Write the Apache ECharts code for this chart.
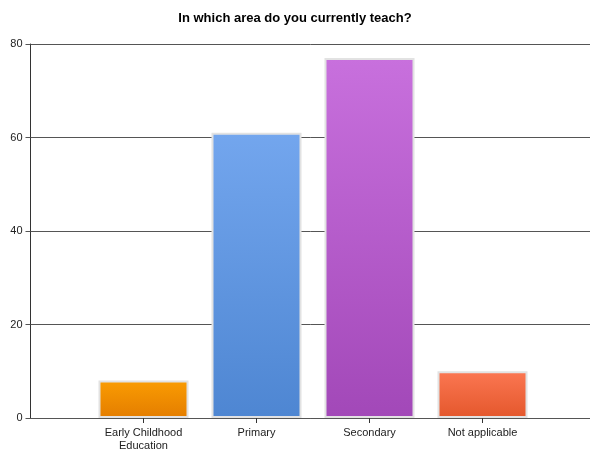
<!DOCTYPE html>
<html><head><meta charset="utf-8">
<script src="https://cdn.jsdelivr.net/npm/echarts@6/dist/echarts.min.js"></script>
<style>html,body{margin:0;padding:0;background:#fff}#c{width:590px;height:450px}</style>
</head><body><div id="c"></div>
<script>
var categories = ['', 'Early Childhood\nEducation', 'Primary', 'Secondary', 'Not applicable', ''];
var values = [null, 8, 61, 77, 10, null];
var yTicks = [0, 20, 40, 60, 80];
var topColors = [null, '#fa9c02', '#73a6ee', '#c870dd', '#fb7752', null];
var bottomColors = [null, '#e47d00', '#4e86d2', '#a248b8', '#e4572c', null];

var chart = echarts.init(document.getElementById('c'));
var data = values.map(function (v, i) {
  if (v === null) return null;
  return {
    value: v,
    itemStyle: {
      color: new echarts.graphic.LinearGradient(0, 0, 0, 1, [
        {offset: 0, color: topColors[i]}, {offset: 1, color: bottomColors[i]}
      ]),
      borderColor: '#e2e2e2', borderWidth: 2
    }
  };
});
chart.setOption({
  animation: false,
  title: {
    text: 'In which area do you currently teach?', left: 'center', top: 7,
    textStyle: {fontFamily: 'Liberation Sans, Arial', fontSize: 13, fontWeight: 'bold', color: '#000'}
  },
  grid: {left: 30.5, width: 565, top: 44, height: 374, containLabel: false, outerBoundsMode: 'none'},
  xAxis: {
    type: 'category', data: categories, boundaryGap: false,
    axisLine: {lineStyle: {color: '#555', width: 1}},
    axisTick: {show: true, length: 5, lineStyle: {color: '#333'},
      interval: function (i, v) { return v !== ''; }},
    axisLabel: {interval: 0, margin: 8, fontFamily: 'Liberation Sans, Arial', fontSize: 11, color: '#222', lineHeight: 13}
  },
  yAxis: {
    type: 'value', min: yTicks[0], max: yTicks[yTicks.length - 1], interval: 20,
    axisLine: {show: true, lineStyle: {color: '#333'}},
    axisTick: {show: true, length: 5, lineStyle: {color: '#555'}},
    axisLabel: {margin: 8, fontFamily: 'Liberation Sans, Arial', fontSize: 11, color: '#222'},
    splitLine: {show: true, lineStyle: {color: '#555', width: 1}}
  },
  series: [{
    type: 'bar', data: data, barWidth: 90
  }]
});
</script></body></html>
